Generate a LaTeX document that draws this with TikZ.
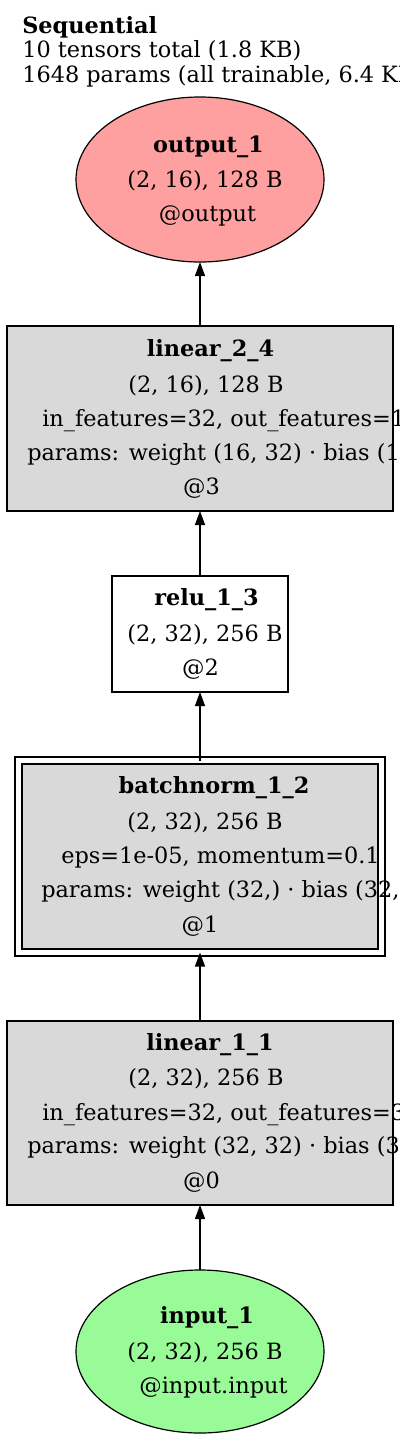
\documentclass[tikz,border=0pt]{standalone}
\usepackage{fontspec}
\setmainfont{DejaVu Serif}
\usepackage{tikz}
\usetikzlibrary{arrows.meta,shapes.geometric}
\newcommand{\lyrFont}{\fontsize{16.8}{20}\selectfont}
\definecolor{lyrred}{RGB}{255,160,160}
\definecolor{lyrgreen}{RGB}{152,251,152}
\definecolor{lyrgrey}{RGB}{217,217,217}
\tikzset{
  %% layer boxes take their fill colour as the argument
  lyrbox/.style={rectangle, draw=black, line width=0.9pt, fill=#1,
    inner sep=0pt, outer sep=0pt},
  %% graph input / output: ellipses
  lyroval/.style={ellipse, draw=black, line width=0.9pt, fill=#1,
    inner sep=0pt, outer sep=0pt},
  %% one text line, centred on its x
  lyrtxt/.style={anchor=base, inner sep=0pt, font=\lyrFont},
  %% one text line, set from its left end (these run off the page)
  lyrcut/.style={anchor=base west, inner sep=0pt, font=\lyrFont},
  lyrflow/.style={-{Triangle[length=10.5pt,width=7.5pt]}, draw=black,
    line width=0.9pt},
}

\begin{document}
\begin{tikzpicture}[x=0.75pt,y=-0.75pt]

\useasboundingbox (0,0) rectangle (400,1443);
\clip (0,0) rectangle (400,1443);

%% --- graph label ------------------------------------------------
\node[lyrcut] (ttl-a) at (22,33) {\textbf{Sequential}};
\node[lyrcut] (ttl-b) at (22,57) {10 tensors total (1.8 KB)};
\node[lyrcut] (ttl-c) at (22,82) {1648 params (all trainable, 6.4 KB)};

%% --- shapes (bottom-up data flow, drawn top-down) -----------------
\node[lyroval=lyrred, minimum width=186pt, minimum height=123.75pt]
  (out) at (200,179.5) {};
\node[lyrbox=lyrgrey, minimum width=289.5pt, minimum height=138.75pt]
  (lin2) at (200,418.5) {};
\node[lyrbox=white, minimum width=132pt, minimum height=87pt]
  (relu) at (200,634) {};
\node[lyrbox=lyrgrey, double=white, double distance=4.35pt,
      minimum width=272.25pt, minimum height=144pt]
  (bn) at (200,856.5) {};
\node[lyrbox=lyrgrey, minimum width=289.5pt, minimum height=138pt]
  (lin1) at (200,1113) {};
\node[lyroval=lyrgreen, minimum width=186pt, minimum height=122.25pt]
  (inp) at (200,1351.5) {};

\draw[lyrflow] (inp)  -- (lin1);
\draw[lyrflow] (lin1) -- (bn);
\draw[lyrflow] (bn)   -- (relu);
\draw[lyrflow] (relu) -- (lin2);
\draw[lyrflow] (lin2) -- (out);

%% --- texts --------------------------------------------------------
\node[lyrtxt] (out-a) at (208.5,152) {\textbf{output\_1}};
\node[lyrtxt] (out-b) at (205,187) {(2, 16), 128 B};
\node[lyrtxt] (out-c) at (207.5,221) {@output};

\node[lyrtxt] (lin2-a) at (210.5,356) {\textbf{linear\_2\_4}};
\node[lyrtxt] (lin2-b) at (206,392) {(2, 16), 128 B};
\node[lyrcut] (lin2-c) at (42,426) {in\_features=32, out\_features=16};
\node[lyrcut] (lin2-d) at (27,460) {params: weight (16, 32) · bias (16,)};
\node[lyrtxt] (lin2-e) at (201.5,494) {@3};

\node[lyrtxt] (relu-a) at (206.5,605) {\textbf{relu\_1\_3}};
\node[lyrtxt] (relu-b) at (205,641) {(2, 32), 256 B};
\node[lyrtxt] (relu-c) at (200.5,675) {@2};

\node[lyrtxt] (bn-a) at (214,793) {\textbf{batchnorm\_1\_2}};
\node[lyrtxt] (bn-b) at (205,829) {(2, 32), 256 B};
\node[lyrtxt] (bn-c) at (220.5,863) {eps=1e-05, momentum=0.1};
\node[lyrcut] (bn-d) at (41,897) {params: weight (32,) · bias (32,)};
\node[lyrtxt] (bn-e) at (200,932) {@1};

\node[lyrtxt] (lin1-a) at (210,1050) {\textbf{linear\_1\_1}};
\node[lyrtxt] (lin1-b) at (206,1085) {(2, 32), 256 B};
\node[lyrcut] (lin1-c) at (42,1120) {in\_features=32, out\_features=32};
\node[lyrcut] (lin1-d) at (27,1153) {params: weight (32, 32) · bias (32,)};
\node[lyrtxt] (lin1-e) at (201.5,1188) {@0};

\node[lyrtxt] (inp-a) at (207,1323) {\textbf{input\_1}};
\node[lyrtxt] (inp-b) at (205,1359) {(2, 32), 256 B};
\node[lyrtxt] (inp-c) at (213.5,1393) {@input.input};

\end{tikzpicture}
\end{document}
